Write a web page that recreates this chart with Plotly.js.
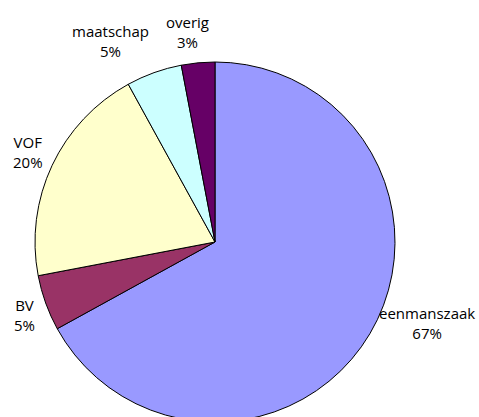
<!DOCTYPE html>
<html>
<head>
<meta charset="utf-8">
<script src="https://cdn.plot.ly/plotly-3.0.1.min.js"></script>
<style>
html,body{margin:0;padding:0;overflow:hidden;background:#fff;}
#chart{width:479px;height:422px;}
</style>
</head>
<body>
<div id="chart"></div>
<script>
var categories = ["eenmanszaak", "BV", "VOF", "maatschap", "overig"];
var values = [67, 5, 20, 5, 3];
var colors = ["#9999FF", "#993366", "#FFFFCC", "#CCFFFF", "#660066"];

(function(){
  var W = 479, H = 422, topM = 62;
  var total = values.reduce(function(a, b){ return a + b; }, 0);
  var pct = values.map(function(v){ return Math.round(v / total * 100) + "%"; });

  // label anchor points (pixel centres in the page)
  var labelPx = [[427, 323], [24, 315], [28, 152], [110, 41.5], [187, 31.5]];
  var annotations = categories.map(function(c, i){
    return {
      xref: "paper", yref: "paper",
      x: labelPx[i][0] / W,
      y: (H - labelPx[i][1]) / (H - topM),
      xanchor: "center", yanchor: "middle",
      text: c + "<br>" + pct[i],
      showarrow: false,
      font: {family: "Open Sans, sans-serif", size: 15, color: "#000"}
    };
  });

  var trace = {
    type: "pie",
    labels: categories,
    values: values,
    sort: false,
    direction: "clockwise",
    rotation: 0,
    marker: {colors: colors, line: {color: "#000", width: 1}},
    textinfo: "none",
    hoverinfo: "label+percent",
    showlegend: false,
    domain: {x: [35 / W, 395 / W], y: [0, 1]}
  };

  var layout = {
    width: W, height: H,
    margin: {l: 0, r: 0, t: topM, b: 0, pad: 0},
    paper_bgcolor: "#fff",
    plot_bgcolor: "#fff",
    showlegend: false,
    annotations: annotations
  };

  Plotly.newPlot("chart", [trace], layout, {displayModeBar: false, staticPlot: true});
})();
</script>
</body>
</html>
